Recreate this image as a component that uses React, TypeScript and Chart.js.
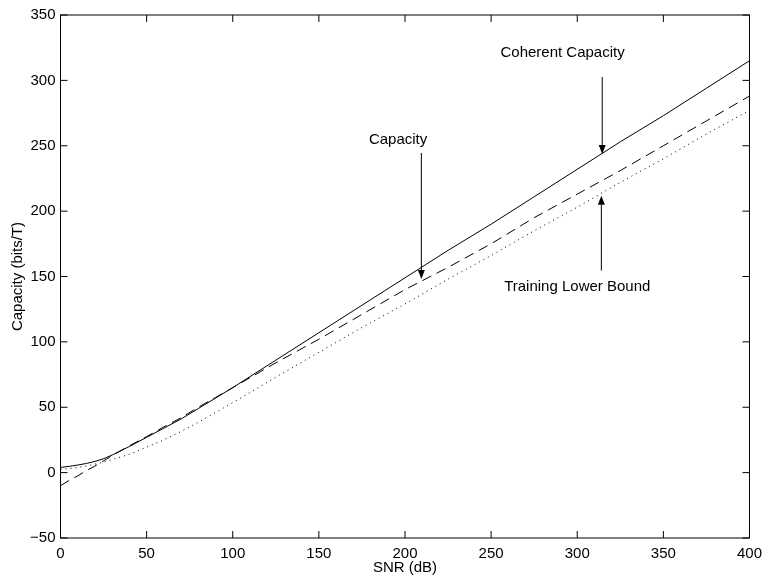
import React, { useEffect, useRef } from "react";
import { Chart, registerables } from "chart.js";

Chart.register(...registerables);

// SNR (dB) sample points
const snr = [0, 5, 10, 15, 20, 25, 30, 40, 50, 60, 70, 80, 90, 100, 125, 150, 175, 200, 225, 250, 275, 300, 325, 350, 375, 400];
// Coherent capacity (solid)
const coherentCapacity = [4, 4.8, 5.8, 7, 8.6, 10.6, 13.5, 20, 27, 34, 41, 49, 57, 65, 86, 107, 128, 149, 170, 190, 211, 232, 253, 273, 294, 315];
// Capacity (dashed)
const capacity = [-10, -6, -2.5, 1.5, 5, 9, 13, 20.5, 27.5, 35, 42, 50, 57.5, 65, 84, 102, 121, 140, 157, 175, 195, 213, 231, 250, 269, 288];
// Training lower bound (dotted)
const trainingLowerBound = [2.5, 3, 4, 5, 6.5, 8, 10, 14, 19.5, 25, 31.5, 38.5, 46, 53.5, 73, 92, 111, 129, 148, 166, 185, 203, 222, 240, 259, 277];

const xTicks = [0, 50, 100, 150, 200, 250, 300, 350, 400];
const yTicks = [-50, 0, 50, 100, 150, 200, 250, 300, 350];

// Annotations: label text, label centre (data coords), arrow x, arrow start y, arrow tip y
const annotationLabels = ["Coherent Capacity", "Capacity", "Training Lower Bound"];
const annotationTextX = [291.5, 196, 300];
const annotationTextY = [321, 254.5, 142];
const annotationArrowX = [314.5, 209.5, 314];
const annotationArrowFrom = [302.5, 244.5, 154.5];
const annotationArrowTo = [243.7, 148, 211.8];

const FONT = "Liberation Sans, Arial, Helvetica, sans-serif";

const framePlugin = {
  id: "frame",
  afterDraw(chart: any) {
    const { ctx, chartArea: a, scales } = chart;
    const xs = scales.x;
    const ys = scales.y;
    ctx.save();
    ctx.strokeStyle = "#000";
    ctx.fillStyle = "#000";
    ctx.lineWidth = 1;
    ctx.strokeRect(a.left, a.top, a.right - a.left, a.bottom - a.top);
    const tl = 7;
    ctx.beginPath();
    xTicks.forEach((v) => {
      const p = xs.getPixelForValue(v);
      ctx.moveTo(p, a.bottom);
      ctx.lineTo(p, a.bottom - tl);
      ctx.moveTo(p, a.top);
      ctx.lineTo(p, a.top + tl);
    });
    yTicks.forEach((v) => {
      const p = ys.getPixelForValue(v);
      ctx.moveTo(a.left, p);
      ctx.lineTo(a.left + tl, p);
      ctx.moveTo(a.right, p);
      ctx.lineTo(a.right - tl, p);
    });
    ctx.stroke();

    // axis titles
    ctx.font = `15px ${FONT}`;
    ctx.textAlign = "center";
    ctx.textBaseline = "middle";
    ctx.fillText("SNR (dB)", (a.left + a.right) / 2, 568);
    ctx.save();
    ctx.translate(18, (a.top + a.bottom) / 2);
    ctx.rotate(-Math.PI / 2);
    ctx.fillText("Capacity (bits/T)", 0, 0);
    ctx.restore();

    // annotations
    annotationLabels.forEach((label, i) => {
      ctx.fillText(label, xs.getPixelForValue(annotationTextX[i]), ys.getPixelForValue(annotationTextY[i]));
      const ax = xs.getPixelForValue(annotationArrowX[i]);
      const y0 = ys.getPixelForValue(annotationArrowFrom[i]);
      const y1 = ys.getPixelForValue(annotationArrowTo[i]);
      const dir = y1 > y0 ? 1 : -1;
      const hl = 9;
      ctx.beginPath();
      ctx.moveTo(ax, y0);
      ctx.lineTo(ax, y1 - dir * hl);
      ctx.stroke();
      ctx.beginPath();
      ctx.moveTo(ax, y1);
      ctx.lineTo(ax - 3.5, y1 - dir * hl);
      ctx.lineTo(ax + 3.5, y1 - dir * hl);
      ctx.closePath();
      ctx.fill();
    });
    ctx.restore();
  },
};

export default function App() {
  const ref = useRef<HTMLCanvasElement>(null);
  useEffect(() => {
    if (!ref.current) return;
    const mk = (ys: number[]) => snr.map((x, i) => ({ x, y: ys[i] }));
    const chart = new Chart(ref.current, {
      type: "line",
      data: {
        datasets: [
          {
            label: "Coherent Capacity",
            data: mk(coherentCapacity),
            borderColor: "#000",
            borderWidth: 1,
            pointRadius: 0,
            tension: 0,
          },
          {
            label: "Capacity",
            data: mk(capacity),
            borderColor: "#000",
            borderWidth: 1,
            borderDash: [10, 6],
            pointRadius: 0,
            tension: 0,
          },
          {
            label: "Training Lower Bound",
            data: mk(trainingLowerBound),
            borderColor: "#000",
            borderWidth: 1,
            borderDash: [1, 4],
            pointRadius: 0,
            tension: 0,
          },
        ],
      },
      options: {
        animation: false,
        responsive: false,
        devicePixelRatio: 1,
        layout: { padding: { left: 0, top: 15, right: 13.5, bottom: 0 } },
        plugins: { legend: { display: false }, tooltip: { enabled: false } },
        scales: {
          x: {
            type: "linear",
            min: 0,
            max: 400,
            afterFit: (s: any) => {
              s.height = 38;
            },
            afterBuildTicks: (s: any) => {
              s.ticks = xTicks.map((v) => ({ value: v }));
            },
            grid: { display: false, drawTicks: false },
            border: { display: false },
            ticks: {
              color: "#000",
              padding: 7,
              maxRotation: 0,
              font: { family: FONT, size: 15 },
            },
          },
          y: {
            type: "linear",
            min: -50,
            max: 350,
            afterFit: (s: any) => {
              s.width = 60.5;
            },
            afterBuildTicks: (s: any) => {
              s.ticks = yTicks.map((v) => ({ value: v }));
            },
            grid: { display: false, drawTicks: false },
            border: { display: false },
            ticks: {
              color: "#000",
              padding: 5,
              font: { family: FONT, size: 15 },
              callback: (v: any) => String(v).replace("-", "\u2212"),
            },
          },
        },
      },
      plugins: [framePlugin],
    });
    return () => chart.destroy();
  }, []);
  return (
    <div style={{ position: "fixed", left: 0, top: 0, width: 769, height: 576, background: "#fff" }}>
      <canvas ref={ref} width={769} height={576} style={{ display: "block" }} />
    </div>
  );
}
